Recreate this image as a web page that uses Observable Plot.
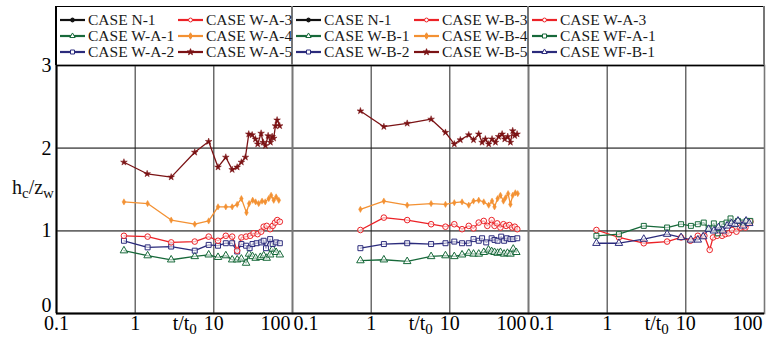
<!DOCTYPE html>
<html>
<head>
<meta charset="utf-8">
<script src="https://cdn.jsdelivr.net/npm/d3@7"></script>
<script src="https://cdn.jsdelivr.net/npm/@observablehq/plot@0.6"></script>
<style>
  body { margin: 0; background: #fff; }
  #wrap { position: relative; width: 773px; height: 340px; font-family: "Liberation Serif", "DejaVu Serif", serif; color: #111; }
  #wrap svg.plot { position: absolute; left: 0; top: 0; }
  .lg { position: absolute; z-index: 2; }
  .lgbox { position: absolute; left: 55px; top: 6px; width: 709px; height: 59px; border-top: 1.5px solid #000; border-left: 2px solid #000; box-sizing: border-box; }
  .lgdiv { position: absolute; top: 6px; width: 1.6px; height: 59px; background: #777; }
  .entry { position: absolute; display: flex; align-items: center; font-size: 15.5px; line-height: 16px; white-space: nowrap; color: #1a1a1a; }
  .entry svg { margin-right: 3px; }
  #ylab { position: absolute; left: 12px; top: 177px; font-size: 20px; line-height: 20px; }
  #ylab span { font-size: 15px; position: relative; top: 4px; }
</style>
</head>
<body>
<div id="wrap"></div>
<script>
// ---------- data ----------
const panels = ["A", "B", "C"];
const xTickValues = [0.1, 1, 10, 100];
const xTickLabels = ["0.1", "1", "10", "100"];
const yTickValues = [1, 2, 3];
const yZeroTick = [0];

// Panel 1 (W-A)
const tWA1 = [0.72,1.44,2.87,5.72,8.6,11.3,14.2,17.1,19.8,22.4,25.7,28,31,34,39,43,47,52,56,62,69];
const vWA1 = [0.76,0.70,0.65,0.69,0.71,0.68,0.70,0.65,0.65,0.66,0.61,0.72,0.69,0.67,0.68,0.70,0.67,0.71,0.78,0.74,0.71];
const tWA2 = [0.72,1.44,2.87,5.72,8.6,11.3,14.2,17.1,19.8,22.4,25.7,28.5,31,35,40,43,46,52,56,62,69];
const vWA2 = [0.88,0.80,0.81,0.76,0.83,0.82,0.85,0.85,0.75,0.84,0.82,0.79,0.84,0.85,0.86,0.88,0.79,0.90,0.84,0.86,0.85];
const tWA3 = [0.72,1.44,2.87,5.72,8.6,11.3,14.2,17.1,19.8,22.4,25.7,29,32,36,40,43,47,52,56,60,64,69];
const vWA3 = [0.94,0.93,0.86,0.87,0.93,0.88,0.94,0.93,0.76,0.92,0.93,0.94,0.97,0.96,0.99,1.05,1.06,1.02,1.06,1.10,1.13,1.11];
const tWA4 = [0.72,1.44,2.87,5.72,8.6,11.3,14.2,17.1,19.8,22.4,26,28.1,31.2,34,37.2,41,45,49.9,53.5,57.7,61.9,67];
const vWA4 = [1.35,1.33,1.13,1.08,1.12,1.29,1.29,1.29,1.32,1.39,1.22,1.33,1.37,1.35,1.33,1.36,1.35,1.39,1.43,1.37,1.41,1.37];
const tWA5 = [0.72,1.42,2.87,5.72,8.6,11.3,14.2,17.1,19.8,22.4,25.2,27.8,30.7,33.8,36.1,39.9,42.3,45.3,49,52.4,55.1,57.7,60.7,63.7,68.7];
const vWA5 = [1.83,1.69,1.65,1.95,2.08,1.77,1.89,1.74,1.77,1.83,1.89,2.17,2.16,2.11,2.05,2.18,2.07,2.03,2.15,2.07,2.14,2.12,2.27,2.34,2.27];

// Panel 2 (W-B)
const tWB1 = [0.73,1.45,2.87,5.78,8.8,11.4,14.3,17.4,20,23.3,27,31,34,37,40.5,44,49,54,59,64,70];
const vWB1 = [0.64,0.65,0.63,0.69,0.70,0.69,0.71,0.73,0.72,0.72,0.74,0.77,0.75,0.74,0.73,0.74,0.72,0.73,0.72,0.78,0.74];
const tWB2 = [0.73,1.45,2.87,5.78,8.8,11.4,14.3,17.4,20,23.3,25.7,29,34,37,40.5,45,49,53,58.9,64,72];
const vWB2 = [0.79,0.84,0.85,0.84,0.85,0.87,0.85,0.85,0.90,0.88,0.91,0.86,0.91,0.89,0.88,0.93,0.88,0.91,0.90,0.90,0.91];
const tWB3 = [0.73,1.45,2.87,5.78,8.8,11.4,14.3,17.4,20,23.3,27,30,34,37,40,44,48,52,57,62,67,72];
const vWB3 = [1.01,1.16,1.13,1.08,1.05,1.08,1.02,1.06,1.03,1.10,1.12,1.06,1.13,1.06,1.09,1.04,1.08,1.06,1.07,1.04,1.05,1.02];
const tWB4 = [0.73,1.45,2.87,5.78,8.8,11.4,14.3,17.4,20,23.3,27,31.2,34.4,37,40.5,44,48,51,55,58.9,63,68,73];
const vWB4 = [1.26,1.36,1.31,1.33,1.32,1.34,1.35,1.31,1.36,1.37,1.35,1.31,1.36,1.29,1.39,1.43,1.36,1.40,1.45,1.32,1.43,1.46,1.45];
const tWB5 = [0.73,1.45,2.87,5.78,8.8,11.4,13.6,17.4,20,23.3,25.7,28.3,31.2,34.4,38,41.7,46.2,49.9,54.5,58.9,63,66.8,71.6];
const vWB5 = [2.45,2.26,2.30,2.35,2.19,2.05,2.10,2.16,2.10,2.17,2.07,2.11,2.05,2.11,2.07,2.14,2.17,2.11,2.14,2.07,2.21,2.15,2.17];

// Panel 3 (W-A-3 / WF)
const tCA3 = [0.73,1.41,2.92,5.78,8.7,11.4,14.2,17.2,20.1,22.2,25,28.9,31.8,35.1,38.7,44,49.4,53.4,57.2,61.2,66.2];
const vCA3 = [1.01,0.92,0.85,0.87,0.92,0.88,0.94,0.94,0.77,0.92,0.94,0.94,0.96,0.97,1.01,0.99,1.04,1.08,1.04,1.09,1.11];
const tWFA1 = [0.73,1.41,2.92,5.78,8.7,11.6,14.2,16.9,19.5,22.7,25.5,28.9,32.9,37,42,46,53.4,59.4,66];
const vWFA1 = [0.94,0.96,1.06,1.04,1.08,1.06,1.08,1.10,1.03,1.09,0.97,1.08,1.10,1.15,1.08,1.12,1.10,1.12,1.12];
const tWFB1 = [0.73,1.41,2.92,5.78,8.7,11.6,14.2,16.6,19.5,22.7,26,29.5,33.5,38,42,46,53.4,58.4,64];
const vWFB1 = [0.85,0.85,0.90,0.96,0.92,0.89,0.89,0.93,1.02,1.00,1.04,1.00,1.06,1.09,1.08,1.12,1.06,1.12,1.09];

// legend names (column-major, 3 rows per column)
const legendA = ["CASE N-1","CASE W-A-1","CASE W-A-2","CASE W-A-3","CASE W-A-4","CASE W-A-5"];
const legendB = ["CASE N-1","CASE W-B-1","CASE W-B-2","CASE W-B-3","CASE W-B-4","CASE W-B-5"];
const legendC = ["CASE W-A-3","CASE WF-A-1","CASE WF-B-1"];

// ---------- styles ----------
const RED = "#ec2227", GREEN = "#17693a", NAVY = "#2b2b7c", ORANGE = "#f39133", DARKRED = "#7b1315", BLACK = "#111";
function styleOf(name) {
  if (name === "CASE N-1") return {color: BLACK, symbol: "circle", filled: true};
  if (name === "CASE WF-A-1") return {color: GREEN, symbol: "square", filled: false};
  if (name === "CASE WF-B-1") return {color: NAVY, symbol: "triangle", filled: false};
  const n = name.slice(-1);
  return {
    "1": {color: GREEN, symbol: "triangle", filled: false},
    "2": {color: NAVY, symbol: "square", filled: false},
    "3": {color: RED, symbol: "circle", filled: false},
    "4": {color: ORANGE, symbol: "diamond", filled: true},
    "5": {color: DARKRED, symbol: "star", filled: true}
  }[n];
}

const seriesList = [
  ["A", "CASE W-A-1", tWA1, vWA1], ["A", "CASE W-A-2", tWA2, vWA2], ["A", "CASE W-A-3", tWA3, vWA3],
  ["A", "CASE W-A-4", tWA4, vWA4], ["A", "CASE W-A-5", tWA5, vWA5],
  ["B", "CASE W-B-1", tWB1, vWB1], ["B", "CASE W-B-2", tWB2, vWB2], ["B", "CASE W-B-3", tWB3, vWB3],
  ["B", "CASE W-B-4", tWB4, vWB4], ["B", "CASE W-B-5", tWB5, vWB5],
  ["C", "CASE W-A-3", tCA3, vCA3], ["C", "CASE WF-A-1", tWFA1, vWFA1], ["C", "CASE WF-B-1", tWFB1, vWFB1]
];

const rows = [];
const keys = [], colors = [], symbols = [];
for (const [panel, name, ts, vs] of seriesList) {
  const key = panel + "|" + name;
  const st = styleOf(name);
  keys.push(key); colors.push(st.color); symbols.push(st.symbol);
  ts.forEach((t, i) => rows.push({panel, name, key, t, v: vs[i], filled: st.filled, symbol: st.symbol}));
}

// x tick labels per panel
const tickMid = [], tickStart = [], tickEnd = [];
for (const p of panels) {
  xTickValues.forEach((t, i) => {
    const d = {panel: p, t, label: xTickLabels[i]};
    if (t === 100) tickEnd.push(d);
    else if (t === 0.1 && p !== "A") tickStart.push(d);
    else tickMid.push(d);
  });
}
const tLabels = panels.map(p => ({panel: p, t: 3, label: "t/t"}));
const FONT = '"Liberation Serif", "DejaVu Serif", serif';

const plot = Plot.plot({
  width: 773, height: 340,
  marginLeft: 56, marginRight: 9, marginTop: 65, marginBottom: 27,
  style: {fontFamily: FONT, fontSize: "20px", background: "transparent", color: "#000"},
  x: {type: "log", domain: [0.1, 100], axis: null},
  y: {domain: [0, 3]},
  fx: {domain: panels, padding: 0, axis: null},
  color: {type: "ordinal", domain: keys, range: colors},
  symbol: {domain: keys, range: symbols},
  marks: [
    Plot.ruleY([1, 2], {stroke: "#6a6a6a", strokeWidth: 1.6}),
    Plot.ruleX([1, 10], {stroke: "#222", strokeWidth: 1}),
    Plot.frame({stroke: "#777", strokeWidth: 1.6}),
    Plot.ruleY([3], {stroke: "#000", strokeWidth: 1.4}),
    Plot.ruleY([0], {stroke: "#000", strokeWidth: 2}),
    Plot.ruleX([{panel: "A", t: 0.1}], {x: "t", fx: "panel", stroke: "#000", strokeWidth: 2}),
    Plot.line(rows, {x: "t", y: "v", z: "key", fx: "panel", stroke: "key", strokeWidth: 1.3}),
    Plot.dot(rows.filter(d => !d.filled), {x: "t", y: "v", fx: "panel", stroke: "key", symbol: "key", fill: "white", fillOpacity: 0.6, r: 2.8, strokeWidth: 1}),
    Plot.dot(rows.filter(d => d.filled && d.symbol === "diamond"), {x: "t", y: "v", fx: "panel", stroke: "key", fill: "key", symbol: "key", r: 1.9, strokeWidth: 0.5}),
    Plot.dot(rows.filter(d => d.filled && d.symbol === "star"), {x: "t", y: "v", fx: "panel", stroke: "key", fill: "key", symbol: "key", r: 2.1, strokeWidth: 0.5}),
    Plot.axisY({ticks: yTickValues, tickSize: 0, tickPadding: 5, tickFormat: d => String(d), fontSize: 20, label: null}),
    Plot.axisY({ticks: yZeroTick, tickSize: 0, tickPadding: 5, tickFormat: d => String(d), fontSize: 20, label: null, dy: -8}),
    Plot.text(tickMid, {x: "t", fx: "panel", text: "label", frameAnchor: "bottom", dy: 16, textAnchor: "middle", fontSize: 20}),
    Plot.text(tickStart, {x: "t", fx: "panel", text: "label", frameAnchor: "bottom", dy: 16, textAnchor: "start", dx: 1, fontSize: 20}),
    Plot.text(tickEnd, {x: "t", fx: "panel", text: "label", frameAnchor: "bottom", dy: 16, textAnchor: "end", dx: -2, fontSize: 20}),
    Plot.text(tLabels, {x: "t", fx: "panel", text: "label", frameAnchor: "bottom", dy: 16, textAnchor: "start", fontSize: 20})
  ]
});
plot.classList.add("plot");

// subscript 0 on t/t0
d3.select(plot).selectAll("text")
  .filter(function() { return this.textContent === "t/t"; })
  .append("tspan").attr("dy", "0.3em").attr("font-size", 15).text("0");

const wrap = document.getElementById("wrap");
wrap.appendChild(plot);

// y label
const yl = document.createElement("div");
yl.id = "ylab";
yl.innerHTML = "h<span>c</span>/z<span>w</span>";
wrap.appendChild(yl);

// legend
const box = document.createElement("div");
box.className = "lg lgbox";
wrap.appendChild(box);
[291.2, 527.2, 763].forEach(x => {
  const dv = document.createElement("div");
  dv.className = "lg lgdiv";
  dv.style.left = x + "px";
  wrap.appendChild(dv);
});
const symMap = {circle: d3.symbolCircle, triangle: d3.symbolTriangle, square: d3.symbolSquare, star: d3.symbolStar, diamond: d3.symbolDiamond};
const cellLeft = [56, 292, 528];
const colOff = [4, 122];
const rowY = [20, 36, 52];
[legendA, legendB, legendC].forEach((names, ci) => {
  names.forEach((name, i) => {
    const col = Math.floor(i / 3), row = i % 3;
    const st = styleOf(name);
    const e = document.createElement("div");
    e.className = "lg entry";
    e.style.left = (cellLeft[ci] + colOff[col]) + "px";
    e.style.top = (rowY[row] - 8) + "px";
    const s = d3.create("svg").attr("width", 25).attr("height", 12);
    s.append("line").attr("x1", 0).attr("x2", 25).attr("y1", 6).attr("y2", 6).attr("stroke", st.color).attr("stroke-width", 2.2);
    s.append("path").attr("transform", "translate(12.5,6)")
      .attr("d", d3.symbol(symMap[st.symbol], st.symbol === "square" ? 16 : 12)())
      .attr("fill", st.filled ? st.color : "white").attr("stroke", st.color).attr("stroke-width", 1);
    e.appendChild(s.node());
    const sp = document.createElement("span");
    sp.textContent = name;
    e.appendChild(sp);
    wrap.appendChild(e);
  });
});
</script>
</body>
</html>
